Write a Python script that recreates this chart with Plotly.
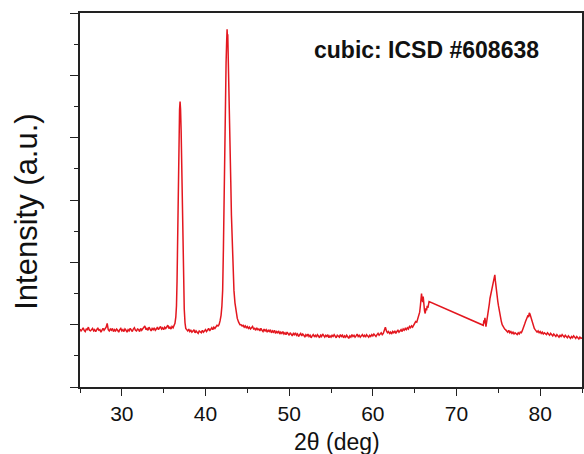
import plotly.graph_objects as go

# ---- XRD scan data -------------------------------------------------------
# Flat background stretches were recorded on a uniform 0.125° step grid;
# the reflections are listed point by point. Nothing was recorded between
# 66.7° and 73.2°, so the trace just joins those two ends.

bg1_start, bg1_step = 25.0, 0.125
bg1_counts = [
    0.93, 0.90, 0.92, 0.95, 0.91, 0.89, 0.93, 0.92, 0.96, 0.91,
    0.90, 0.93, 0.94, 0.90, 0.92, 0.89, 0.93, 0.95, 0.91, 0.92,
    0.88, 0.92, 0.94, 0.91, 0.93, 0.96, 1.02, 0.92, 0.90, 0.93,
    0.91, 0.94, 0.89, 0.92, 0.90, 0.93, 0.91, 0.88, 0.92, 0.94,
    0.90, 0.92, 0.89, 0.93, 0.91, 0.88, 0.92, 0.90, 0.94, 0.91,
    0.89, 0.93, 0.95, 0.91, 0.90, 0.93, 0.92, 0.89, 0.94, 0.91,
    0.93, 0.95, 0.98, 0.92, 0.94, 0.91, 0.96, 0.93, 0.90, 0.94,
    0.92, 0.95, 0.91, 0.93, 0.96, 0.92, 0.94, 0.97, 0.93, 0.95,
    0.92, 0.96, 0.94, 0.97, 0.99, 0.94, 0.96, 0.93, 0.97, 0.95, 0.98,
]

peak1_two_theta = [36.35, 36.45, 36.53, 36.60, 36.67, 36.75, 36.83, 36.90, 36.96,
                   37.02, 37.09, 37.16, 37.23, 37.30, 37.38, 37.46, 37.55, 37.64]
peak1_counts = [1.02, 1.12, 1.30, 1.70, 2.60, 3.40, 4.05, 4.45, 4.58,
                4.45, 4.10, 3.55, 2.95, 2.30, 1.65, 1.25, 1.03, 0.94]

bg2_start, bg2_step = 37.75, 0.125
bg2_counts = [
    0.92, 0.90, 0.93, 0.89, 0.91, 0.88, 0.90, 0.92, 0.87, 0.90,
    0.88, 0.86, 0.90, 0.89, 0.87, 0.91, 0.88, 0.90, 0.92, 0.89,
    0.91, 0.94, 0.90, 0.93, 0.95, 0.92, 0.96, 0.94, 0.97, 0.99, 0.98,
]

peak2_two_theta = [41.62, 41.74, 41.86, 41.96, 42.05, 42.14, 42.22, 42.30, 42.38, 42.46,
                   42.53, 42.58, 42.62, 42.66, 42.71, 42.78, 42.86, 42.94, 43.02, 43.10,
                   43.19, 43.29, 43.40, 43.52, 43.65, 43.80, 43.96, 44.12]
peak2_counts = [1.00, 1.06, 1.15, 1.30, 1.55, 2.20, 3.10, 3.90, 4.60, 5.20,
                5.55, 5.74, 5.60, 5.66, 5.40, 4.90, 4.35, 3.85, 3.30, 2.75,
                2.25, 1.85, 1.55, 1.35, 1.20, 1.10, 1.04, 1.00]

bg3_start, bg3_step = 44.25, 0.125
bg3_counts = [
    1.00, 0.98, 0.99, 0.96, 0.98, 0.95, 0.97, 0.94, 0.96, 0.93,
    0.95, 0.97, 0.93, 0.94, 0.91, 0.95, 0.92, 0.93, 0.90, 0.94,
    0.91, 0.89, 0.93, 0.90, 0.92, 0.88, 0.91, 0.89, 0.92, 0.87,
    0.90, 0.88, 0.91, 0.86, 0.89, 0.87, 0.90, 0.85, 0.88, 0.86,
    0.89, 0.85, 0.87, 0.84, 0.88, 0.86, 0.83, 0.87, 0.85, 0.82,
    0.86, 0.84, 0.87, 0.83, 0.85, 0.81, 0.84, 0.86, 0.82, 0.85,
    0.83, 0.80, 0.84, 0.82, 0.85, 0.81, 0.83, 0.79, 0.82, 0.84,
    0.81, 0.83, 0.80, 0.84, 0.82, 0.79, 0.83, 0.81, 0.85, 0.82,
    0.80, 0.83, 0.81, 0.84, 0.79, 0.82, 0.80, 0.83, 0.81, 0.84,
    0.82, 0.79, 0.83, 0.81, 0.80, 0.84, 0.81, 0.83, 0.79, 0.82,
    0.80, 0.83, 0.81, 0.78, 0.82, 0.80, 0.84, 0.81, 0.83, 0.80,
    0.82, 0.85, 0.81, 0.83, 0.80, 0.82, 0.84, 0.81, 0.83, 0.80,
    0.84, 0.82, 0.80, 0.83, 0.81, 0.84, 0.82, 0.85, 0.83, 0.81,
    0.84, 0.86, 0.83, 0.85, 0.87, 0.84, 0.86, 0.91, 0.96, 0.90,
    0.87, 0.89, 0.86, 0.88, 0.85, 0.89, 0.87, 0.90, 0.86, 0.89,
    0.91, 0.88, 0.90, 0.92, 0.89, 0.93, 0.91, 0.94, 0.92, 0.95,
    0.93, 0.97, 0.95, 0.98, 0.96, 1.00, 1.02,
]

peak3_two_theta = [65.12, 65.25, 65.38, 65.50, 65.60, 65.68, 65.75, 65.82, 65.88, 65.95,
                   66.02, 66.10, 66.18, 66.26, 66.34, 66.42, 66.50, 66.58, 66.66, 66.72]
peak3_counts = [1.05, 1.04, 1.10, 1.13, 1.20, 1.30, 1.44, 1.50, 1.42, 1.36,
                1.45, 1.28, 1.22, 1.18, 1.26, 1.23, 1.30, 1.27, 1.33, 1.37]

peak4_two_theta = [73.20, 73.27, 73.33, 73.40, 73.46, 73.52, 73.60, 73.68, 73.76, 73.84,
                   73.92, 74.00, 74.08, 74.16, 74.24, 74.32, 74.40, 74.47, 74.53, 74.58,
                   74.64, 74.70, 74.78, 74.86, 74.94, 75.02, 75.10, 75.18, 75.27, 75.36,
                   75.46, 75.56, 75.66, 75.76, 75.86]
peak4_counts = [0.99, 1.07, 1.02, 1.11, 1.03, 0.97, 1.04, 1.10, 1.17, 1.24,
                1.33, 1.42, 1.48, 1.53, 1.58, 1.63, 1.68, 1.73, 1.78, 1.80,
                1.71, 1.62, 1.53, 1.44, 1.37, 1.30, 1.23, 1.16, 1.10, 1.05,
                1.00, 0.97, 0.95, 0.93, 0.92]

bg4_start, bg4_step = 76.0, 0.125
bg4_counts = [0.90, 0.88, 0.91, 0.87, 0.89, 0.86, 0.88, 0.85, 0.87, 0.86,
              0.84, 0.87, 0.85, 0.88, 0.87]

peak5_two_theta = [77.85, 77.95, 78.05, 78.15, 78.25, 78.35, 78.45, 78.55, 78.62, 78.70,
                   78.78, 78.86, 78.94, 79.02, 79.10, 79.20, 79.30, 79.40, 79.50]
peak5_counts = [0.90, 0.93, 0.97, 1.01, 1.05, 1.08, 1.12, 1.15, 1.12, 1.19,
                1.17, 1.13, 1.09, 1.05, 1.01, 0.97, 0.94, 0.92, 0.90]

bg5_start, bg5_step = 79.625, 0.125
bg5_counts = [
    0.88, 0.90, 0.87, 0.89, 0.86, 0.88, 0.85, 0.87, 0.86, 0.84,
    0.87, 0.85, 0.83, 0.86, 0.84, 0.82, 0.85, 0.83, 0.81, 0.84,
    0.82, 0.80, 0.83, 0.81, 0.84, 0.82, 0.80, 0.83, 0.81, 0.79,
    0.82, 0.80, 0.78, 0.81, 0.79, 0.82, 0.80, 0.78, 0.81, 0.79,
    0.77, 0.80, 0.78, 0.79,
]

x_tick_values = [30, 40, 50, 60, 70, 80]
phase_label = "cubic: ICSD #608638"
x_title = "2θ (deg)"
y_title = "Intensity (a.u.)"


def step_grid(start, step, counts):
    """Angles of a constant-step background scan."""
    return [round(start + i * step, 4) for i in range(len(counts))]


segments = [
    (step_grid(bg1_start, bg1_step, bg1_counts), bg1_counts),
    (peak1_two_theta, peak1_counts),
    (step_grid(bg2_start, bg2_step, bg2_counts), bg2_counts),
    (peak2_two_theta, peak2_counts),
    (step_grid(bg3_start, bg3_step, bg3_counts), bg3_counts),
    (peak3_two_theta, peak3_counts),
    (peak4_two_theta, peak4_counts),
    (step_grid(bg4_start, bg4_step, bg4_counts), bg4_counts),
    (peak5_two_theta, peak5_counts),
    (step_grid(bg5_start, bg5_step, bg5_counts), bg5_counts),
]
two_theta = [a for xs, _ in segments for a in xs]
intensity = [c for _, ys in segments for c in ys]

FONT = "Liberation Sans, Arial, sans-serif"
AXIS_COLOR = "#222222"
TEXT_COLOR = "#111111"

fig = go.Figure(
    go.Scatter(
        x=two_theta,
        y=intensity,
        mode="lines",
        line=dict(color="#e3171f", width=1.5),
        hoverinfo="skip",
    )
)

fig.update_layout(
    width=584,
    height=454,
    margin=dict(l=80, r=2, t=13, b=67),
    paper_bgcolor="white",
    plot_bgcolor="white",
    showlegend=False,
    font=dict(family=FONT, color=TEXT_COLOR),
    annotations=[
        dict(
            text=phase_label,
            xref="paper", yref="paper",
            x=0.690, y=0.901,
            xanchor="center", yanchor="middle",
            showarrow=False,
            font=dict(family=FONT, size=23, color=TEXT_COLOR, weight="bold"),
        ),
        dict(
            text=y_title,
            xref="paper", yref="paper",
            x=-0.106, y=0.468,
            xanchor="center", yanchor="middle",
            textangle=-90,
            showarrow=False,
            font=dict(family=FONT, size=31, color=TEXT_COLOR),
        ),
        dict(
            text=x_title,
            xref="paper", yref="paper",
            x=0.512, y=-0.146,
            xanchor="center", yanchor="middle",
            showarrow=False,
            font=dict(family=FONT, size=23, color=TEXT_COLOR),
        ),
    ],
)

fig.update_xaxes(
    range=[25, 85],
    automargin=False,
    tickvals=x_tick_values,
    ticks="outside",
    ticklen=7,
    tickwidth=1.3,
    tickcolor=AXIS_COLOR,
    minor=dict(dtick=5, tick0=25, ticks="outside", ticklen=4, tickwidth=1.3, tickcolor=AXIS_COLOR),
    tickfont=dict(family=FONT, size=21, color=TEXT_COLOR),
    showline=True,
    linecolor=AXIS_COLOR,
    linewidth=1.6,
    mirror=True,
    showgrid=False,
    zeroline=False,
)

fig.update_yaxes(
    range=[0, 6],
    automargin=False,
    dtick=1,
    tick0=0,
    ticks="outside",
    ticklen=8,
    tickwidth=1.3,
    tickcolor=AXIS_COLOR,
    minor=dict(dtick=0.5, tick0=0, ticks="outside", ticklen=4, tickwidth=1.3, tickcolor=AXIS_COLOR),
    showticklabels=False,
    showline=True,
    linecolor=AXIS_COLOR,
    linewidth=1.6,
    mirror=True,
    showgrid=False,
    zeroline=False,
)

fig.write_html("out.html")
